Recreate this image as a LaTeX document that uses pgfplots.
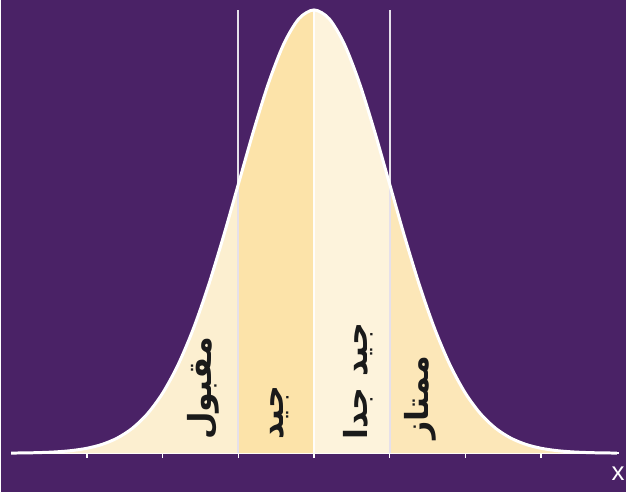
\documentclass[border=0pt]{standalone}
\usepackage{pgfplots}
\pgfplotsset{compat=1.18}
\usepackage{pgfplotstable}
\usepackage{fontspec}
\setmainfont{Liberation Sans}
\newfontfamily\arabicfont[Script=Arabic]{DejaVu Sans}
\TeXXeTstate=1
\definecolor{bgpurple}{HTML}{4A2266}
\definecolor{fillA}{HTML}{FCEFD0}
\definecolor{fillB}{HTML}{FCE3A9}
\definecolor{fillC}{HTML}{FDF3DC}
\definecolor{fillD}{HTML}{FCE7B8}
\definecolor{vline}{HTML}{E6E0EA}
\definecolor{labink}{HTML}{1A1A1A}

% standard normal shape, peak scaled to 1
\pgfplotstableread{
z y
-4.0 0.00034
-3.8 0.00073
-3.6 0.00153
-3.4 0.00309
-3.2 0.00598
-3.0 0.01111
-2.8 0.01984
-2.6 0.03405
-2.4 0.05613
-2.2 0.08892
-2.0 0.13534
-1.8 0.19790
-1.6 0.27804
-1.4 0.37531
-1.2 0.48675
-1.0 0.60653
-0.8 0.72615
-0.6 0.83527
-0.4 0.92312
-0.2 0.98020
0.0 1.00000
0.2 0.98020
0.4 0.92312
0.6 0.83527
0.8 0.72615
1.0 0.60653
1.2 0.48675
1.4 0.37531
1.6 0.27804
1.8 0.19790
2.0 0.13534
2.2 0.08892
2.4 0.05613
2.6 0.03405
2.8 0.01984
3.0 0.01111
3.2 0.00598
3.4 0.00309
3.6 0.00153
3.8 0.00073
4.0 0.00034
}\curve

\tikzset{grade/.style={rotate=90, anchor=west, text=labink, inner sep=0pt,
  font=\fontsize{32}{36}\selectfont\arabicfont\bfseries}}

\begin{document}
\begin{tikzpicture}
\begin{axis}[
  width=627bp, height=494bp, scale only axis,
  xmin=-4.1316, xmax=4.1184, ymin=-0.0876, ymax=1.0225,
  axis x line=middle, axis y line=none,
  axis line style={white, line width=2.5bp, -},
  x axis line style={shorten <=11bp, shorten >=7bp},
  xtick={-3,...,3}, xticklabels={}, ytick=\empty,
  tick align=outside, major tick length=5bp,
  tick style={white, line width=1.5bp},
  axis background/.style={fill=bgpurple},
  clip=false,
]
\addplot[fill=fillA, draw=none, smooth, restrict x to domain=-4:-1] table[x=z,y=y] {\curve} \closedcycle;
\addplot[fill=fillB, draw=none, smooth, restrict x to domain=-1:0] table[x=z,y=y] {\curve} \closedcycle;
\addplot[fill=fillC, draw=none, smooth, restrict x to domain=0:1] table[x=z,y=y] {\curve} \closedcycle;
\addplot[fill=fillD, draw=none, smooth, restrict x to domain=1:4] table[x=z,y=y] {\curve} \closedcycle;

\addplot[vline, line width=2bp] coordinates {(-1,0) (-1,1.0)};
\addplot[white!85!fillC, line width=2bp] coordinates {(0,0) (0,1.0)};
\addplot[vline, line width=2bp] coordinates {(1,0) (1,1.0)};

\addplot[white, line width=3bp, smooth] table[x=z,y=y] {\curve};

\node[grade] at (axis cs:-1.46,0.03) {\beginR مقبول\endR};
\node[grade] at (axis cs:-0.45,0.03) {\beginR جيد\endR};
\node[grade] at (axis cs:0.58,0.03) {\beginR جيد جدا\endR};
\node[grade] at (axis cs:1.40,0.03) {\beginR ممتاز\endR};

\node[anchor=north east, text=white, font=\fontsize{26}{28}\selectfont, inner sep=0pt] at (axis cs:4.105,-0.03) {x};
\end{axis}
\end{tikzpicture}
\end{document}
